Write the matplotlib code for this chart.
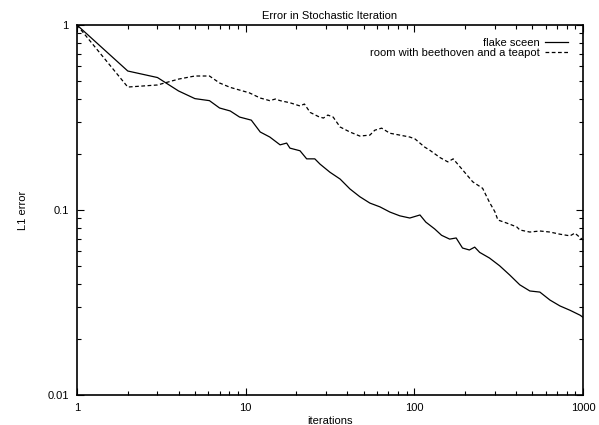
import matplotlib
matplotlib.use("Agg")
import matplotlib.pyplot as plt
from matplotlib.ticker import FixedLocator, NullFormatter

plt.rcParams['font.family'] = ['Liberation Sans', 'DejaVu Sans']

title = "Error in Stochastic Iteration"
xlabel = "iterations"
ylabel = "L1 error"
series_names = ["flake sceen", "room with beethoven and a teapot"]

flake_x = [1, 2, 3, 4, 5, 6.1, 7, 8.1, 9.2, 10.8, 12.2, 13.9, 16, 17.5, 18.3, 21, 23,
           25.7, 27.6, 31.6, 36.3, 41.5, 47.5, 54.5, 62.5, 71.6, 82, 94, 108, 117, 132,
           145, 162, 177, 193, 212, 228, 244, 279, 320, 368, 422, 484, 555, 637, 730,
           838, 961, 1000]
flake_y = [1, 0.564, 0.52, 0.44, 0.40, 0.39, 0.356, 0.343, 0.318, 0.306, 0.264, 0.248,
           0.225, 0.23, 0.216, 0.209, 0.189, 0.189, 0.177, 0.16, 0.147, 0.13, 0.118,
           0.109, 0.104, 0.0975, 0.093, 0.0905, 0.094, 0.086, 0.079, 0.073, 0.0696,
           0.0706, 0.0623, 0.0608, 0.063, 0.059, 0.055, 0.05, 0.0445, 0.0394, 0.0365,
           0.036, 0.0326, 0.0303, 0.0287, 0.027, 0.0263]

room_x = [1, 2, 3, 4, 5, 6.1, 7, 8.1, 9.2, 10.5, 12.2, 13.9, 15, 16, 18.3, 21, 22.3,
          24.1, 27, 28.9, 30.7, 33, 36.3, 41.5, 47.5, 54.5, 58.3, 64, 71.6, 82, 94,
          101, 115, 123, 142, 158, 170, 193, 222, 254, 279, 300, 313, 353, 405, 422,
          484, 555, 637, 730, 838, 895, 985, 1000]
room_y = [1, 0.462, 0.474, 0.51, 0.53, 0.53, 0.486, 0.46, 0.445, 0.43, 0.403, 0.39,
          0.398, 0.39, 0.38, 0.365, 0.374, 0.337, 0.32, 0.314, 0.326, 0.318, 0.281,
          0.264, 0.251, 0.254, 0.27, 0.277, 0.26, 0.254, 0.248, 0.242, 0.219, 0.211,
          0.192, 0.182, 0.189, 0.165, 0.142, 0.131, 0.110, 0.098, 0.0883, 0.085,
          0.081, 0.078, 0.076, 0.077, 0.076, 0.074, 0.0725, 0.075, 0.0696, 0.069]

xticks = [1, 10, 100, 1000]
xtick_labels = ["1", "10", "100", "1000"]
yticks = [0.01, 0.1, 1]
ytick_labels = ["0.01", "0.1", "1"]

fig = plt.figure(figsize=(5.99, 4.25), dpi=100)
ax = fig.add_axes([77/599, 1 - 395/425, (583 - 77)/599, (395 - 25)/425])

ax.plot(flake_x, flake_y, color='black', lw=0.9, label=series_names[0])
ax.plot(room_x, room_y, color='black', lw=0.9, ls=(0, (3, 2)), label=series_names[1])

ax.set_xscale('log')
ax.set_yscale('log')
ax.set_xlim(1, 1000)
ax.set_ylim(0.01, 1)

ax.xaxis.set_major_locator(FixedLocator(xticks))
ax.set_xticklabels(xtick_labels)
ax.yaxis.set_major_locator(FixedLocator(yticks))
ax.set_yticklabels(ytick_labels)
ax.xaxis.set_minor_formatter(NullFormatter())
ax.yaxis.set_minor_formatter(NullFormatter())

ax.tick_params(which='both', direction='in', top=True, right=True, labelsize=8, color='black')
ax.tick_params(which='major', length=5, width=0.8, pad=6)
ax.tick_params(which='minor', length=3, width=0.8)
for s in ax.spines.values():
    s.set_linewidth(1.2)
    s.set_color('black')

ax.set_title(title, fontsize=8, pad=4)
ax.set_xlabel(xlabel, fontsize=8, labelpad=2)
ax.set_ylabel(ylabel, fontsize=8, labelpad=14)

ax.legend(loc='upper right', bbox_to_anchor=(0.970, 0.964), frameon=False, fontsize=8,
          markerfirst=False, handlelength=2.07, handletextpad=0.45,
          borderaxespad=0, borderpad=0, labelspacing=0)

fig.savefig("out.png", dpi=100)
